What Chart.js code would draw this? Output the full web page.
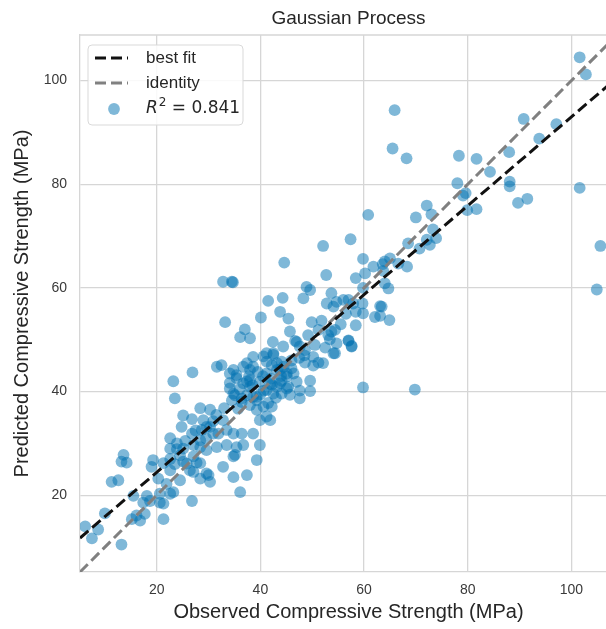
<!DOCTYPE html>
<html>
<head>
<meta charset="utf-8">
<script src="https://cdn.jsdelivr.net/npm/chart.js@4"></script>
<style>
  html, body { margin: 0; padding: 0; background: #fff; overflow: hidden; }
  #wrap { position: relative; width: 640px; height: 629px; }
</style>
</head>
<body>
<div id="wrap"><canvas id="chart"></canvas></div>
<script>
// observed vs predicted compressive strength (MPa)
const observed = [
  101.6, 102.8, 65.9, 65.5, 68.2, 78.3, 81.7, 84.3, 88.0, 90.8,
  93.8, 97.1, 78.0, 79.6, 79.1, 79.9, 81.7, 88.1, 88.1, 89.7,
  91.5, 101.6, 105.6, 104.9, 72.1, 70.0, 73.0, 73.3, 73.9, 72.7,
  72.1, 70.7, 68.5, 65.0, 64.0, 66.6, 68.3, 63.7, 64.0, 64.7,
  63.4, 64.9, 63.1, 59.8, 62.1, 58.4, 57.0, 57.6, 54.4, 53.7,
  59.8, 69.8, 60.8, 52.1, 57.4, 59.8, 61.8, 63.6, 52.7, 58.4,
  60.2, 48.9, 49.6, 48.3, 53.7, 59.8, 63.1, 52.8, 54.7, 56.0,
  57.9, 54.1,
  44.6, 34.7, 41.5, 44.3, 43.8, 45.4, 40.1, 49.9, 51.8, 57.0,
  58.4, 59.7, 45.7, 49.2, 51.2, 53.1, 54.4, 37.0, 36.1, 38.0,
  42.4, 44.4, 46.7, 53.4, 54.7, 57.0, 57.6, 54.1, 52.1, 50.2,
  48.6, 47.6, 47.0, 38.6, 40.6, 42.5, 41.2, 43.2, 42.2, 34.8,
  36.7, 38.0, 35.4, 37.4, 34.1, 43.8, 45.1, 46.4, 47.0, 43.8,
  45.4, 47.6, 49.6, 50.2, 48.6, 51.2, 45.7, 49.6, 47.6,
  26.9, 23.2, 23.5, 31.6, 32.5, 34.1, 35.4, 36.7, 38.0, 38.6,
  37.4, 34.1, 35.1, 34.5, 36.4, 35.7, 37.4, 38.0, 39.3, 40.6,
  41.9, 43.2, 44.1, 40.6, 42.2, 41.2, 39.9, 41.9, 28.4, 30.3,
  25.1, 26.8, 30.9, 32.8, 29.0, 24.8, 26.8, 28.7, 30.3, 31.9,
  33.5, 34.8, 36.4, 38.6, 22.6, 23.9, 22.6, 25.1, 27.1, 28.4,
  29.6, 31.6, 33.5, 35.4, 36.7, 39.9, 34.8, 35.1, 39.3, 19.3,
  21.3, 22.6, 25.1, 27.1, 28.4, 26.4, 29.6, 32.8, 34.8, 37.4,
  41.2, 42.5, 44.1, 45.1, 43.2, 41.2, 44.1, 45.1, 42.2, 38.6,
  39.3, 41.5, 38.0, 39.9, 41.2, 39.3, 42.5, 34.8, 36.4,
  13.6, 13.2, 14.2, 11.3, 12.6, 15.5, 18.1, 17.4, 18.7, 17.7,
  16.1, 15.2, 16.8, 20.6, 21.3, 10.0, 6.2, 8.7, 7.5, 13.2,
  26.8, 19.0, 20.3, 21.9, 23.2, 24.5, 27.1, 28.4, 30.0, 30.3,
  25.8, 27.7, 20.6, 21.3, 22.6, 24.5, 22.6, 23.9, 29.6, 30.9,
  28.4, 36.1, 32.8, 34.5, 33.2,
  40.5, 42.0, 44.5, 46.0, 47.5, 48.5, 46.0, 44.0, 39.5, 37.8,
  36.0, 38.5, 40.0, 43.0, 33.0, 31.5, 29.5, 27.5, 25.5, 23.5,
  50.5, 52.5, 55.5, 56.5
];
const predicted = [
  104.5, 101.2, 94.3, 86.9, 85.0, 85.5, 84.9, 82.4, 86.2, 92.6,
  88.8, 91.6, 80.2, 78.3, 77.8, 75.0, 75.2, 80.5, 79.6, 76.4,
  77.2, 79.3, 68.1, 59.7, 75.9, 73.6, 74.2, 71.3, 69.6, 68.3,
  69.3, 67.6, 68.6, 65.7, 65.1, 64.7, 64.1, 63.3, 60.9, 59.9,
  56.4, 53.8, 54.6, 55.1, 54.4, 52.8, 49.8, 48.8, 47.4, 51.6,
  40.8, 40.4, 74.1, 68.1, 69.4, 65.6, 64.1, 64.6, 62.5, 61.9,
  62.8, 60.2, 59.6, 58.0, 59.0, 60.0, 56.5, 57.0, 57.3, 57.7,
  57.0, 56.4,
  64.9, 61.1, 57.5, 58.1, 55.4, 54.1, 54.3, 53.4, 53.7, 57.7,
  55.4, 57.0, 51.6, 50.9, 51.9, 50.9, 51.9, 52.0, 50.5, 50.3,
  49.6, 48.7, 49.8, 50.1, 49.3, 49.9, 48.7, 47.4, 45.5, 46.7,
  48.0, 48.7, 49.6, 46.7, 46.8, 47.4, 45.8, 45.5, 45.1, 44.2,
  44.8, 44.2, 42.6, 42.0, 41.7, 44.2, 42.9, 43.5, 41.9, 41.6,
  40.9, 40.2, 42.1, 45.0, 45.6, 45.6, 39.4, 40.1, 38.7,
  43.7, 42.0, 38.7, 44.8, 45.1, 43.5, 43.2, 41.6, 42.2, 44.8,
  45.5, 40.6, 39.3, 38.3, 38.0, 36.7, 39.3, 37.4, 38.3, 40.2,
  41.5, 40.9, 42.1, 37.1, 37.1, 35.2, 34.5, 34.5, 36.8, 36.5,
  35.4, 34.7, 34.3, 34.5, 34.5, 33.2, 31.9, 32.6, 33.2, 31.9,
  32.6, 31.9, 31.9, 31.9, 31.0, 30.0, 29.0, 29.0, 29.7, 29.3,
  28.7, 29.3, 29.7, 29.3, 29.7, 29.7, 27.5, 27.8, 26.8, 26.8,
  26.2, 24.8, 26.5, 27.5, 26.2, 24.8, 24.2, 25.5, 23.5, 23.9,
  47.4, 47.1, 45.8, 43.5, 44.2, 43.5, 39.6, 40.6, 41.3, 39.0,
  36.5, 37.8, 40.9, 41.9, 40.3, 39.0, 39.6, 39.6, 38.7,
  27.8, 26.5, 26.3, 22.6, 22.9, 19.9, 19.9, 18.6, 18.9, 16.4,
  16.1, 15.4, 15.1, 18.6, 15.4, 16.5, 14.0, 13.4, 11.7, 10.5,
  18.9, 25.5, 23.2, 22.2, 20.6, 22.9, 24.5, 23.2, 23.9, 22.6,
  26.1, 26.3, 20.3, 18.4, 20.3, 27.7, 27.0, 28.9, 33.2, 31.9,
  30.6, 20.6, 61.2, 61.2, 53.4,
  43.0, 42.5, 44.8, 46.0, 46.5, 47.0, 44.5, 43.0, 43.8, 43.0,
  40.5, 41.2, 39.5, 38.8, 36.8, 35.5, 31.0, 32.5, 30.5, 26.0,
  49.0, 48.5, 53.0, 55.0
];

const tickValues = [20, 40, 60, 80, 100];
const axisMin = 5.2;
const axisMax = 108.8;
const fitSlope = 0.857;
const fitIntercept = 7.3;
const r2Text = '0.841';

const gridColor = '#d6d6d6';
const textColor = '#262626';
const sans = "'Liberation Sans', Arial, sans-serif";

const points = observed.map((x, i) => ({ x, y: predicted[i] }));
const bestFit = [axisMin, axisMax].map(x => ({ x, y: fitSlope * x + fitIntercept }));
const identity = [axisMin, axisMax].map(v => ({ x: v, y: v }));

// top spine (chart.js only draws the axis-side borders)
const topSpine = {
    id: 'topSpine',
    beforeDatasetsDraw(chart) {
        const { ctx, chartArea } = chart;
        ctx.save();
        ctx.strokeStyle = gridColor;
        ctx.lineWidth = 1.3;
        ctx.beginPath();
        ctx.moveTo(chartArea.left, chartArea.top);
        ctx.lineTo(chartArea.right, chartArea.top);
        ctx.stroke();
        ctx.restore();
    }
};

// matplotlib-style legend box inside the upper-left corner
const boxLegend = {
    id: 'boxLegend',
    afterDatasetsDraw(chart) {
        const { ctx, chartArea } = chart;
        const ds = chart.data.datasets;
        const x0 = chartArea.left + 8, y0 = chartArea.top + 10, w = 155, h = 80;
        ctx.save();
        ctx.beginPath();
        ctx.roundRect(x0, y0, w, h, 4);
        ctx.fillStyle = 'rgba(255,255,255,0.85)';
        ctx.fill();
        ctx.strokeStyle = '#d9d9d9';
        ctx.lineWidth = 1;
        ctx.stroke();

        const rows = [y0 + 13, y0 + 38, y0 + 64];
        [0, 1].forEach(i => {
            ctx.beginPath();
            ctx.setLineDash(ds[i].borderDash);
            ctx.strokeStyle = ds[i].borderColor;
            ctx.lineWidth = ds[i].borderWidth;
            ctx.moveTo(x0 + 7, rows[i]);
            ctx.lineTo(x0 + 40, rows[i]);
            ctx.stroke();
        });
        ctx.setLineDash([]);
        ctx.beginPath();
        ctx.arc(x0 + 26, rows[2], ds[2].pointRadius, 0, Math.PI * 2);
        ctx.fillStyle = ds[2].backgroundColor;
        ctx.fill();

        ctx.fillStyle = textColor;
        ctx.textBaseline = 'middle';
        ctx.font = '17px ' + sans;
        const tx = x0 + 58;
        ctx.fillText(ds[0].label, tx, rows[0]);
        ctx.fillText(ds[1].label, tx, rows[1]);

        ctx.font = "italic 17px 'DejaVu Sans'";
        ctx.fillText('R', tx, rows[2]);
        let cx = tx + ctx.measureText('R').width + 1;
        ctx.font = "12px 'DejaVu Sans'";
        ctx.fillText('2', cx, rows[2] - 6);
        cx += ctx.measureText('2').width;
        ctx.font = "17px 'DejaVu Sans'";
        ctx.fillText(' = ' + r2Text, cx, rows[2]);
        ctx.restore();
    }
};

new Chart(document.getElementById('chart'), {
    type: 'scatter',
    data: {
        datasets: [
            {
                type: 'line',
                label: 'best fit',
                data: bestFit,
                borderColor: '#111111',
                borderWidth: 3,
                borderDash: [11, 5],
                pointRadius: 0,
                fill: false,
            },
            {
                type: 'line',
                label: 'identity',
                data: identity,
                borderColor: '#808080',
                borderWidth: 3,
                borderDash: [11, 5],
                pointRadius: 0,
                fill: false,
            },
            {
                label: 'R2',
                data: points,
                backgroundColor: 'rgba(0, 114, 178, 0.5)',
                borderWidth: 0,
                pointRadius: 5.9,
                pointHoverRadius: 5.9,
            }
        ]
    },
    options: {
        responsive: true,
        maintainAspectRatio: false,
        animation: false,
        events: [],
        layout: { padding: { left: 0, right: 23, top: 0, bottom: 0 } },
        scales: {
            x: {
                type: 'linear',
                min: axisMin,
                max: axisMax,
                afterBuildTicks: s => { s.ticks = tickValues.map(value => ({ value })); },
                afterFit: s => { s.height = 57; },
                grid: { color: gridColor, lineWidth: 1.3, drawTicks: false },
                border: { color: gridColor, width: 1.3 },
                ticks: { color: '#3a3a3a', padding: 10, font: { family: sans, size: 14 } },
                title: {
                    display: true,
                    text: 'Observed Compressive Strength (MPa)',
                    color: textColor,
                    font: { family: sans, size: 20 },
                    padding: { top: 5, bottom: 5 }
                }
            },
            y: {
                type: 'linear',
                min: axisMin,
                max: axisMax,
                afterBuildTicks: s => { s.ticks = tickValues.map(value => ({ value })); },
                afterFit: s => { s.width = 80; },
                grid: { color: gridColor, lineWidth: 1.3, drawTicks: false },
                border: { color: gridColor, width: 1.3 },
                ticks: { color: '#3a3a3a', padding: 13, font: { family: sans, size: 14 } },
                title: {
                    display: true,
                    text: 'Predicted Compressive Strength (MPa)',
                    color: textColor,
                    font: { family: sans, size: 20 },
                    padding: { top: 10, bottom: 10 }
                }
            }
        },
        plugins: {
            legend: { display: false },
            tooltip: { enabled: false },
            title: {
                display: true,
                text: 'Gaussian Process',
                fullSize: false,
                color: textColor,
                font: { family: sans, size: 19, weight: 'normal' },
                padding: { top: 7, bottom: 5.2 }
            }
        }
    },
    plugins: [topSpine, boxLegend]
});
</script>
</body>
</html>
